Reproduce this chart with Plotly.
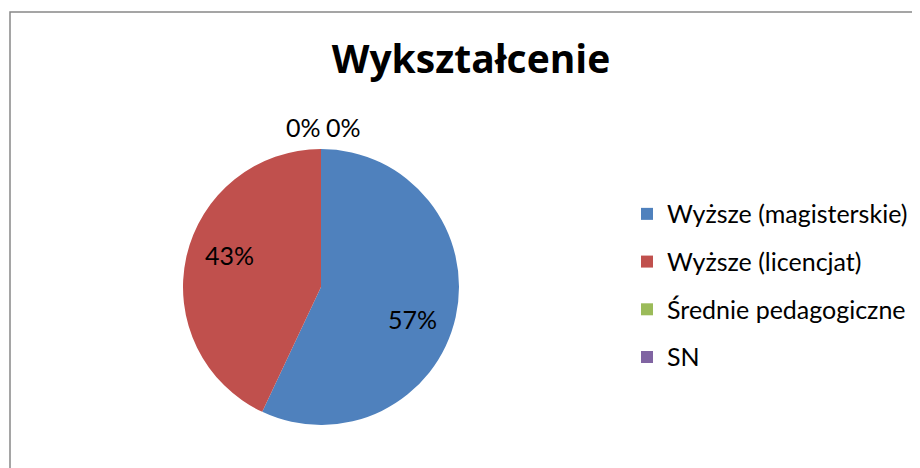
import math
import plotly.graph_objects as go

categories = ["Wyższe (magisterskie)", "Wyższe (licencjat)", "Średnie pedagogiczne", "SN"]
values = [57, 43, 0, 0]
colors = ["#4F81BD", "#C0504D", "#9BBB59", "#8064A2"]
title_text = "Wykształcenie"

# page body has an 8px margin; work in screen coordinates and convert
OFF = 8
W, H = 920 - OFF, 468 - OFF


def px(sx):
    return (sx - OFF) / W


def py(sy):
    return 1 - (sy - OFF) / H


cx, cy, r = 321, 287, 138
total = sum(values)
label_radius = 0.70 * r      # distance of inside labels from the centre
label_turn = 7               # degrees, label placement tweak (clockwise)

legend_labels = ["<span style='font-size:25px;baseline-shift:4px'>%s</span>" % c for c in categories]

fig = go.Figure(go.Pie(
    labels=legend_labels,
    values=values,
    sort=False,
    direction="clockwise",
    rotation=0,
    marker=dict(colors=colors, line=dict(width=0)),
    textinfo="none",
    domain=dict(x=[px(cx - r), px(cx + r)], y=[py(cy + r), py(cy - r)]),
    hoverinfo="skip",
    showlegend=True,
))

annotations = []
label_font = dict(family="Lato", size=25, color="#000000")
cum = 0.0
for v in values:
    if v > 0:
        mid = (cum + v / 2) / total * 360 + label_turn
        a = math.radians(mid)
        sx = cx + label_radius * math.sin(a)
        sy = cy - label_radius * math.cos(a)
        annotations.append(dict(x=px(sx), y=py(sy), xref="paper", yref="paper",
                                text="%d%%" % round(100 * v / total), showarrow=False,
                                xanchor="center", yanchor="middle", font=label_font))
    cum += v

# labels for zero-size slices, set side by side above the top of the pie
zero_idx = [i for i, v in enumerate(values) if v == 0]
for k, i in enumerate(zero_idx):
    sx = cx + (k - 0.5 * (len(zero_idx) - 1)) * 40 + 2
    sy = cy - r - 22
    annotations.append(dict(x=px(sx), y=py(sy), xref="paper", yref="paper",
                            text="%d%%" % round(100 * values[i] / total), showarrow=False,
                            xanchor="center", yanchor="middle", font=label_font))

fig.update_layout(
    width=W, height=H,
    margin=dict(l=0, r=0, t=0, b=0),
    paper_bgcolor="white",
    plot_bgcolor="white",
    title=dict(text="<b>%s</b>" % title_text, x=px(471), xanchor="center",
               y=py(59), yanchor="middle", yref="container",
               font=dict(family="Open Sans", size=39, color="#000000")),
    legend=dict(x=px(668 - 41), xanchor="left", y=py(285.5), yanchor="middle",
                font=dict(family="Lato", size=34.4, color="#000000"),
                itemwidth=30, bgcolor="rgba(0,0,0,0)", traceorder="normal"),
    annotations=annotations,
    shapes=[dict(type="rect", xref="paper", yref="paper",
                 x0=px(10), x1=1.02, y0=-0.02, y1=py(12),
                 line=dict(color="#888888", width=1.5), fillcolor="rgba(0,0,0,0)")],
)

fig.write_html("out.html")
